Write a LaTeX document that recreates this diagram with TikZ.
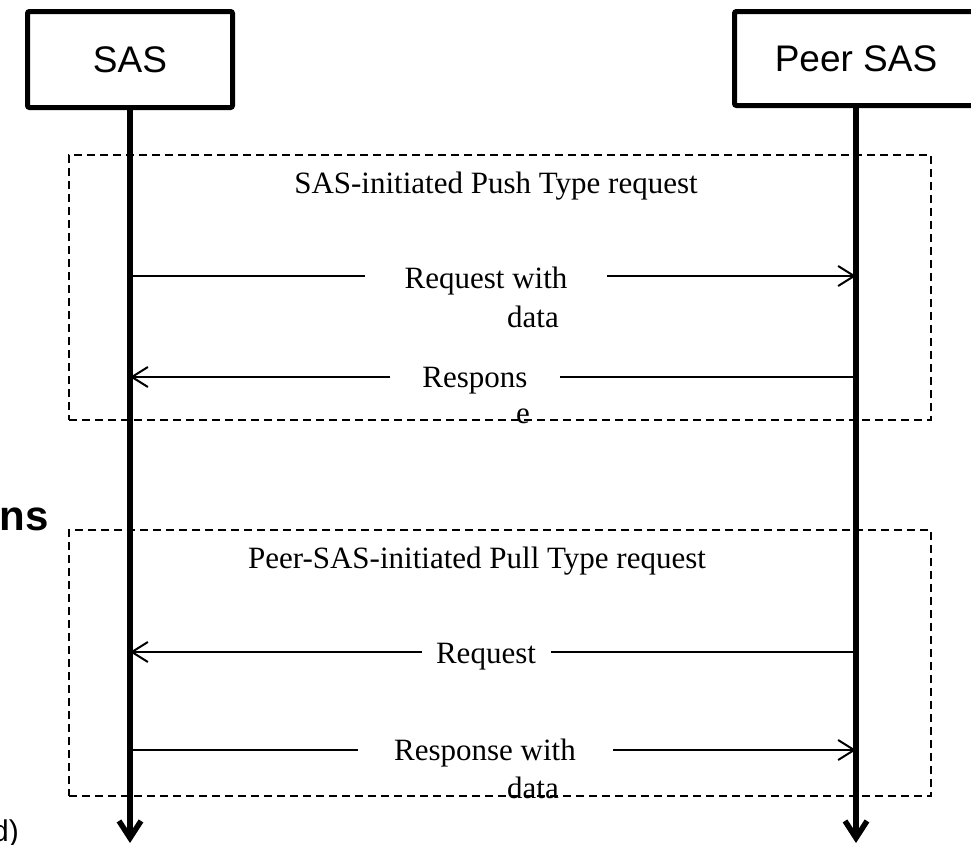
\documentclass[tikz,border=0pt]{standalone}
\usepackage{fontspec}
\newfontfamily\boxfont{Liberation Sans}
\newfontfamily\msgfont{Liberation Serif}
\usetikzlibrary{calc, positioning, arrows.meta}

\begin{document}
\begin{tikzpicture}[x=1pt, y=-1pt,
  entity/.style={draw, line width=5pt, rounded corners=2pt, text centered, font=\boxfont\fontsize{37}{44}\selectfont},
  life/.style={line width=5.5pt, -{Straight Barb[length=17pt,width=22pt]}},
  frame/.style={draw, line width=1.5pt, dash pattern=on 8pt off 5pt},
  msg/.style={line width=2pt, -{Straight Barb[length=16pt,width=20pt]}},
  msgtxt/.style={anchor=base, inner sep=0pt, font=\msgfont\fontsize{31}{37}\selectfont},
  gap/.style={msgtxt, fill=white, inner ysep=3pt},
  cut/.style={anchor=base east, inner sep=0pt, font=\boxfont\fontsize{#1}{#1}\selectfont}]
\useasboundingbox (0,0) rectangle (971,844);
\clip (0,0) rectangle (971,844);
% frames %
\node[frame, minimum width=862pt, minimum height=265pt] (push) at (500,287.5) {};
\node[frame, minimum width=862pt, minimum height=266pt] (pull) at (500,663) {};
\node[msgtxt] (pushtitle) at (496,193) {SAS-initiated Push Type request};
\node[msgtxt] (pulltitle) at (477,568) {Peer-SAS-initiated Pull Type request};
% entities %
\node[entity, minimum width=205pt, minimum height=96pt] (sas) at (130,59.5) {SAS};
\node[entity, minimum width=243pt, minimum height=94pt] (peer) at (856,58.5) {Peer SAS};
\coordinate (sasend) at (130,843);
\coordinate (peerend) at (856,843);
\draw[life] (sas.south) -- (sasend);
\draw[life] (peer.south) -- (peerend);
% messages %
\coordinate (s1) at (sas |- 0,276);
\coordinate (p1) at (peer |- 0,276);
\coordinate (s2) at (sas |- 0,377);
\coordinate (p2) at (peer |- 0,377);
\coordinate (s3) at (sas |- 0,652);
\coordinate (p3) at (peer |- 0,652);
\coordinate (s4) at (sas |- 0,750);
\coordinate (p4) at (peer |- 0,750);
\draw[msg] (s1) -- (p1);
\draw[msg] (p2) -- (s2);
\draw[msg] (p3) -- (s3);
\draw[msg] (s4) -- (p4);
% labels %
\node[gap, minimum width=242pt] (req) at (486,288) {Request with};
\node[msgtxt] (reqb) at ([xshift=47pt,yshift=-39pt]req.base) {data};
\node[gap, minimum width=170pt] (resp) at (475,387) {Respons};
\node[msgtxt] (respb) at ([xshift=48pt,yshift=-36pt]resp.base) {e};
\node[gap, minimum width=129pt] (pullreq) at (486,663) {Request};
\node[gap, minimum width=255pt] (pullresp) at (485,760) {Response with};
\node[msgtxt] (pullrespb) at ([xshift=48pt,yshift=-38pt]pullresp.base) {data};
% cut-off text %
\node[cut=42] (ns) at (49,530) {\bfseries ns};
\node[cut=30] (dd) at (19,841) {d)};
\end{tikzpicture}
\end{document}
